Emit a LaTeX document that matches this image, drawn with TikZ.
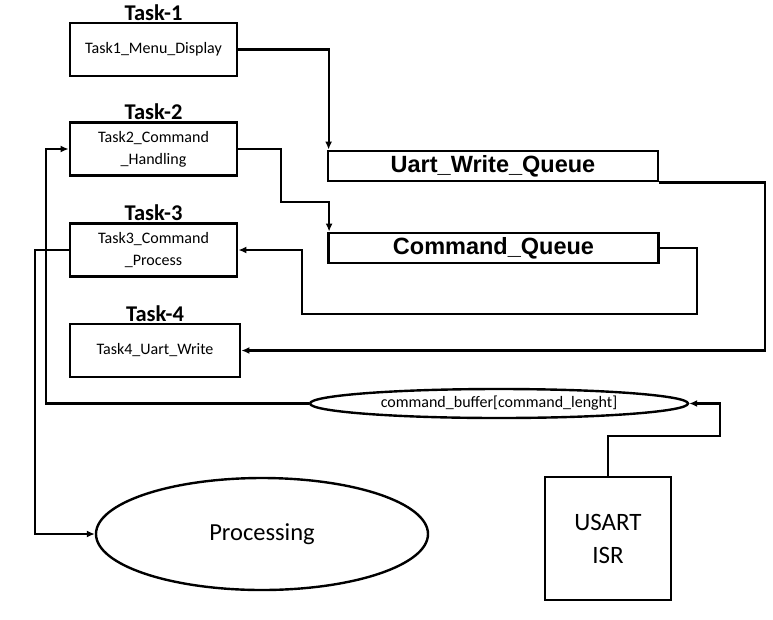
\documentclass[tikz,border=0pt]{standalone}
\usepackage{fontspec}
\setmainfont{Carlito}
\newfontfamily\arialfont{Liberation Sans}
\usetikzlibrary{calc, arrows.meta, positioning, shapes}

\begin{document}
\begin{tikzpicture}[x=1pt, y=-1pt, >=Latex, font=\fontsize{16}{22}\selectfont]
		\tikzstyle{task} = [draw=black, line width=2.8pt, rectangle, minimum width=167pt, minimum height=53pt, align=center, inner sep=0pt]
		\tikzstyle{queue} = [draw=black, line width=2.8pt, rectangle, minimum width=330pt, minimum height=30pt, inner sep=0pt, font=\arialfont\bfseries\fontsize{23.5}{26}\selectfont]
		\tikzstyle{title} = [font=\bfseries\fontsize{22.5}{24}\selectfont, inner sep=1pt]
		\tikzstyle{oval} = [draw=black, line width=2.4pt, ellipse, inner sep=0pt]
		\tikzstyle{arrow} = [line width=2.2pt, -{Latex[length=8pt, width=7pt]}]
		
		\useasboundingbox (0,0) rectangle (773,619);
		
		\node[task]	at (153.5, 49.5)	(t1)	{Task1\_Menu\_Display};
		\node[task]	at (153.5, 149)		(t2)	{Task2\_Command\\\_Handling};
		\node[task]	at (153.5, 250)		(t3)	{Task3\_Command\\\_Process};
		\node[task, minimum width=170pt]	at (155, 350.5)	(t4)	{Task4\_Uart\_Write};
		
		\node[title, above=0pt of t1]	(h1)	{Task-1};
		\node[title, above=0pt of t2]	(h2)	{Task-2};
		\node[title, above=0pt of t3]	(h3)	{Task-3};
		\node[title, above=0pt of t4]	(h4)	{Task-4};
		
		\node[queue]	at (493, 166)	(uq)	{Uart\_Write\_Queue};
		\node[queue]	at (493.5, 248)	(cq)	{Command\_Queue};
		
		\node[oval, minimum width=378pt, minimum height=29pt]	at (499, 403.5)	(buf)	{command\_buffer[command\_lenght]};
		\node[oval, minimum width=332pt, minimum height=112pt, font=\fontsize{24.5}{28}\selectfont]	at (262, 534)	(proc)	{Processing};
		\node[draw=black, line width=2.8pt, rectangle, minimum width=126pt, minimum height=123pt, align=center, font=\fontsize{25}{33}\selectfont]	at (608, 538.5)	(isr)	{USART\\ISR};
		
		\coordinate (c1) at (281, 202);
		\coordinate (c2) at (697, 314);
		\coordinate (c3) at (302, 314);
		\coordinate (c4) at (765, 350.5);
		\coordinate (c5) at (46, 403.5);
		\coordinate (c6) at (35, 250);
		\coordinate (c7) at (720, 436);
		
		\draw [arrow] (t1.east)	-| ([xshift=2pt]uq.north west);
		\draw [arrow] (t2.east)	-| (c1) -| ([xshift=2pt]cq.north west);
		\draw [arrow] (cq.east)	-| (c2) -- (c3) |- (t3.east);
		\draw [arrow] (uq.south east)	-| (c4) -- (t4.east);
		\draw [arrow] (buf.west)	-- (c5) |- (t2.west);
		\draw [arrow] (t3.west)	-- (c6) |- (proc.west);
		\draw [arrow] (isr.north)	|- (c7) |- (buf.east);
		
	\end{tikzpicture}
\end{document}
